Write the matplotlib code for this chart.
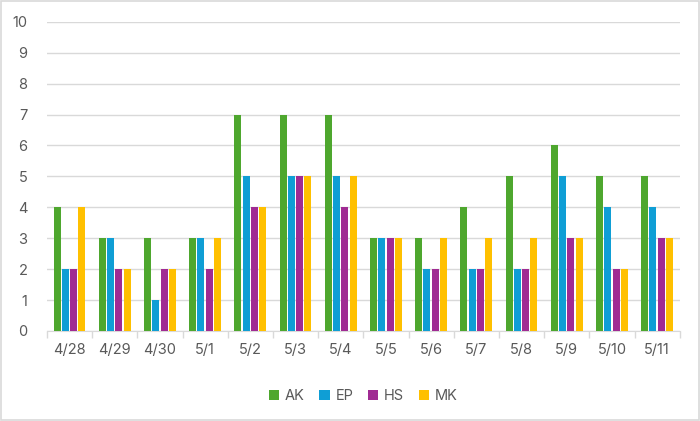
import matplotlib
matplotlib.use("Agg")
import matplotlib.pyplot as plt
import numpy as np

dates = ["4/28", "4/29", "4/30", "5/1", "5/2", "5/3", "5/4",
         "5/5", "5/6", "5/7", "5/8", "5/9", "5/10", "5/11"]
ak = [4, 3, 3, 3, 7, 7, 7, 3, 3, 4, 5, 6, 5, 5]
ep = [2, 3, 1, 3, 5, 5, 5, 3, 2, 2, 2, 5, 4, 4]
hs = [2, 2, 2, 2, 4, 5, 4, 3, 2, 2, 2, 3, 2, 3]
mk = [4, 2, 2, 3, 4, 5, 5, 3, 3, 3, 3, 3, 2, 3]

series = [("AK", ak, "#4EA72E"), ("EP", ep, "#0F9ED5"),
          ("HS", hs, "#A02B93"), ("MK", mk, "#FFC000")]

plt.rcParams['font.family'] = ['Inter', 'DejaVu Sans']
TXT = "#595959"

fig = plt.figure(figsize=(7, 4.21), dpi=100)
ax = fig.add_axes([0.067, 0.214, 0.904, 0.734])

x = np.arange(len(dates))
pitch = 0.184
width = 0.155
for i, (name, vals, col) in enumerate(series):
    ax.bar(x + (i - 1.5) * pitch, vals, width, color=col, label=name, zorder=3)

ax.set_xlim(-0.5, len(dates) - 0.5)
ax.set_ylim(0, 10)
ax.set_yticks(range(0, 11))
ax.yaxis.grid(True, color="#D9D9D9", linewidth=1, zorder=0)
ax.tick_params(axis='y', length=0, labelsize=10.5, labelcolor=TXT, pad=14)

ax.set_xticks(x)
ax.set_xticklabels(dates)
ax.set_xticks(np.arange(-0.5, len(dates), 1), minor=True)
ax.tick_params(axis='x', which='major', length=0, labelsize=10.5, labelcolor=TXT, pad=9)
ax.tick_params(axis='x', which='minor', length=5, color="#D9D9D9", width=1)

for s in ['top', 'right', 'left']:
    ax.spines[s].set_visible(False)
ax.spines['bottom'].set_color("#D9D9D9")

ax.legend(loc='upper center', bbox_to_anchor=(0.5, -0.145), ncol=4, frameon=False,
          fontsize=10.5, labelcolor=TXT, handlelength=0.7, handleheight=0.7,
          handletextpad=0.4, columnspacing=1.0)

fig.patches.append(plt.Rectangle((0.002, 0.003), 0.996, 0.994, transform=fig.transFigure,
                                 fill=False, edgecolor="#D9D9D9", linewidth=1.2))

fig.savefig("out.png", dpi=100)
